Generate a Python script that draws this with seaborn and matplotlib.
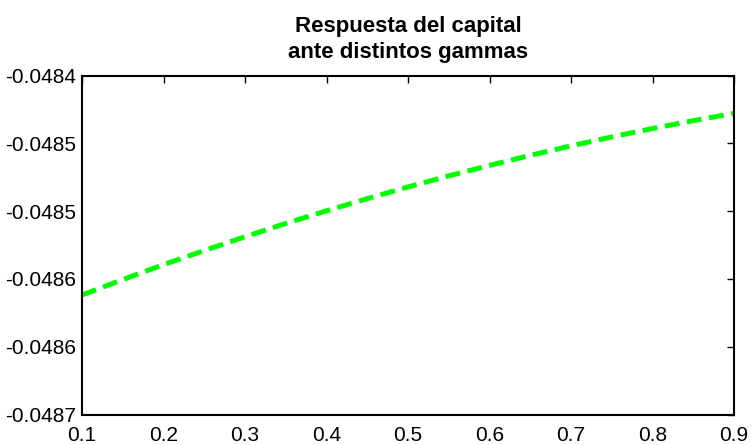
import numpy as np
import pandas as pd
import matplotlib
matplotlib.use("Agg")
import matplotlib.pyplot as plt
import seaborn as sns

# datos
gammas = [0.10, 0.15, 0.20, 0.25, 0.30, 0.35, 0.40, 0.45, 0.50,
          0.55, 0.60, 0.65, 0.70, 0.75, 0.80, 0.85, 0.90]
capital = [-0.0485619, -0.0485505, -0.0485395, -0.0485291, -0.0485189,
           -0.0485091, -0.0484998, -0.0484908, -0.0484822, -0.0484740,
           -0.0484663, -0.0484589, -0.0484519, -0.0484453, -0.0484391,
           -0.0484333, -0.0484279]

x_ticks = [0.1, 0.2, 0.3, 0.4, 0.5, 0.6, 0.7, 0.8, 0.9]
y_ticks = [-0.04840, -0.04845, -0.04850, -0.04855, -0.04860, -0.04865]
y_labels = ['-0.0484', '-0.0485', '-0.0485', '-0.0486', '-0.0486', '-0.0487']

df = pd.DataFrame({'gamma': gammas, 'capital': capital})

sns.set_style("white")
plt.rcParams['font.family'] = ['Liberation Sans', 'DejaVu Sans']
plt.rcParams['text.color'] = 'black'

fig = plt.figure(figsize=(7.52, 4.45), dpi=100)
ax = fig.add_axes([82 / 752, 1 - 414.5 / 445, 652 / 752, 339 / 445])

sns.lineplot(data=df, x='gamma', y='capital', ax=ax, color='#00FF00',
             linewidth=3.6, linestyle=(0, (3, 1.5)))

ax.set_xlim(0.1, 0.9)
ax.set_ylim(-0.04865, -0.04840)
ax.set_xticks(x_ticks)
ax.set_xticklabels([f'{t:.1f}' for t in x_ticks])
ax.set_yticks(y_ticks)
ax.set_yticklabels(y_labels)
ax.tick_params(direction='in', length=5, width=1, labelsize=15,
               top=True, right=True, colors='black')
ax.tick_params(axis='x', pad=8)
ax.tick_params(axis='y', pad=4)
ax.set_xlabel('')
ax.set_ylabel('')
for s in ax.spines.values():
    s.set_color('black')
    s.set_linewidth(1.5)

ax.set_title('Respuesta del capital\nante distintos gammas',
             fontsize=16, fontweight='bold', pad=12.5, linespacing=1.35,
             color='black')

fig.savefig('out.png', dpi=100)
